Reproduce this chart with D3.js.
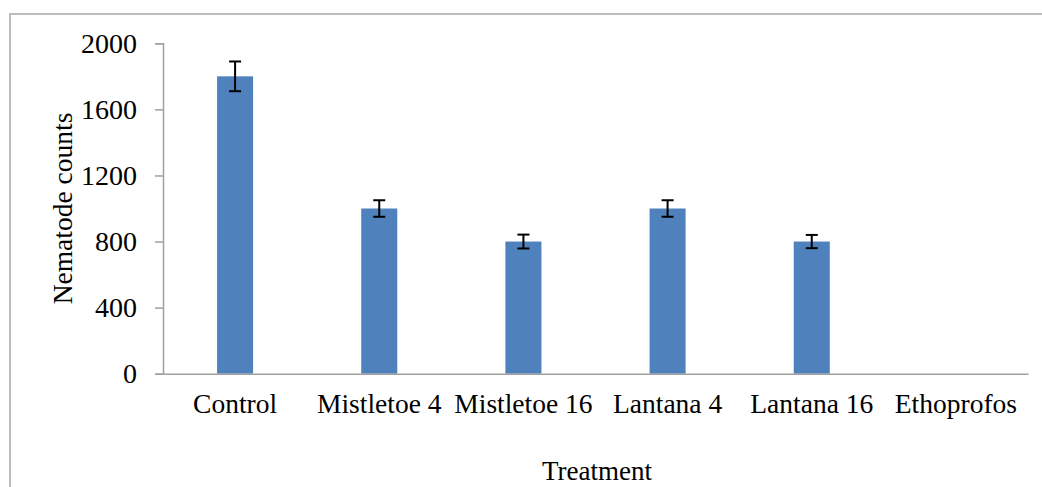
<!DOCTYPE html>
<html><head><meta charset="utf-8">
<script src="https://cdn.jsdelivr.net/npm/d3@7"></script>
<style>body{margin:0;background:#fff}svg{display:block}text{font-family:"Liberation Serif","Times New Roman",serif;fill:#000}</style>
</head><body><svg id="c" width="1042" height="487"></svg>
<script>
const categories = ["Control","Mistletoe 4","Mistletoe 16","Lantana 4","Lantana 16","Ethoprofos"];
const values = [1800, 1000, 800, 1000, 800, 0];
const errors = [90, 50, 42, 50, 40, 0];
const yTicks = [0, 400, 800, 1200, 1600, 2000];

const svg = d3.select("#c");
const m = {left:163, right:1028, top:43.3, bottom:373.7};
svg.append("rect").attr("x",10).attr("y",14).attr("width",1050).attr("height",500)
  .attr("fill","none").attr("stroke","#a6a6a6").attr("stroke-width",1.5);

const x = d3.scaleBand().domain(categories).range([m.left, m.right]).padding(0);
const y = d3.scaleLinear().domain([0,2000]).range([m.bottom, m.top]);
const bw = x.bandwidth()*0.25;

const yAxis = svg.append("g").attr("transform",`translate(${m.left},0)`)
  .call(d3.axisLeft(y).tickValues(yTicks).tickSize(8).tickPadding(18).tickFormat(d3.format("d")));
yAxis.select(".domain").attr("stroke","#a0a0a0").attr("stroke-width",1.5);
yAxis.selectAll(".tick line").attr("stroke","#a0a0a0").attr("stroke-width",1.5);
yAxis.selectAll(".tick text").style("font-size","28px").attr("font-family","Liberation Serif").attr("fill","#000");

svg.selectAll("rect.bar").data(values).join("rect").attr("class","bar")
  .attr("x",(d,i)=>x(categories[i])+x.bandwidth()/2-bw/2)
  .attr("y",d=>y(d)).attr("width",bw).attr("height",d=>y(0)-y(d))
  .attr("fill","#4f81bd");

const xAxis = svg.append("g").attr("transform",`translate(0,${m.bottom})`)
  .call(d3.axisBottom(x).tickSize(0).tickPadding(20));
xAxis.select(".domain").attr("stroke","#a0a0a0").attr("stroke-width",1.5);
xAxis.selectAll(".tick text").style("font-size","27.5px").attr("font-family","Liberation Serif").attr("fill","#000");

const eb = svg.append("g").attr("stroke","#000").attr("stroke-width",2);
values.forEach((v,i)=>{
  if(errors[i]===0) return;
  const cx = x(categories[i])+x.bandwidth()/2;
  eb.append("line").attr("x1",cx).attr("x2",cx).attr("y1",y(v+errors[i])).attr("y2",y(v-errors[i]));
  [v+errors[i], v-errors[i]].forEach(e=>eb.append("line").attr("x1",cx-6).attr("x2",cx+6).attr("y1",y(e)).attr("y2",y(e)));
});

svg.append("text").attr("transform",`translate(72,${(m.top+m.bottom)/2}) rotate(-90)`)
  .attr("text-anchor","middle").style("font-size","27.5px").text("Nematode counts");
svg.append("text").attr("x",597).attr("y",480).attr("text-anchor","middle").style("font-size","27px").text("Treatment");
</script></body></html>
